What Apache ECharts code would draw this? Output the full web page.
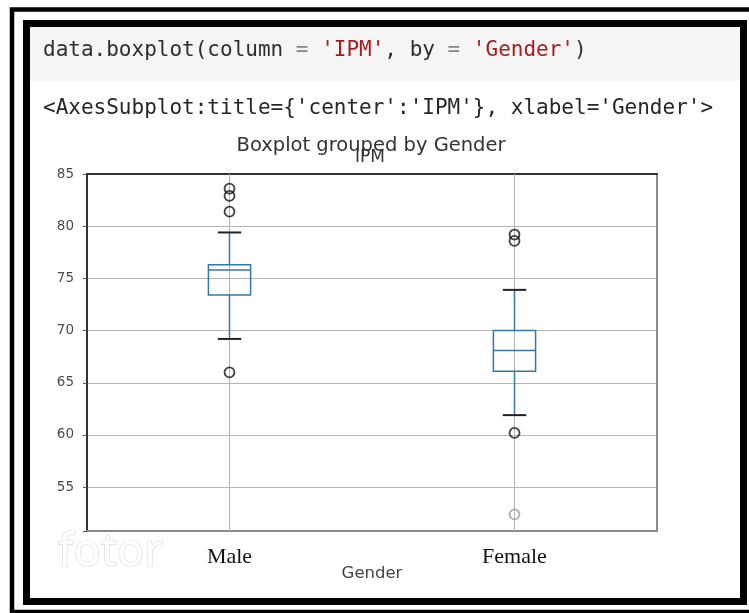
<!DOCTYPE html>
<html>
<head>
<meta charset="utf-8">
<script src="https://cdn.jsdelivr.net/npm/echarts@6/dist/echarts.min.js"></script>
<style>
  html, body { margin: 0; padding: 0; background: #fff; }
  #chart { width: 749px; height: 613px; }
</style>
</head>
<body>
<div id="chart"></div>
<script>
// values
const categories = ['Male', 'Female'];
const whiskerLow = [69.2, 61.9];
const q1 = [73.4, 66.1];
const median = [75.8, 68.1];
const q3 = [76.3, 70.0];
const whiskerHigh = [79.4, 73.9];
const maleOutliers = [83.6, 82.9, 81.4, 66.0];
const femaleOutliers = [79.2, 78.6, 60.2, 52.4];

const boxColor = '#2f7aa6';
const gridColor = '#b4b4b8';

const boxData = categories.map((c, i) => [i, whiskerLow[i], q1[i], median[i], q3[i], whiskerHigh[i]]);
const outlierData = [];
maleOutliers.forEach(v => outlierData.push([categories[0], v]));
femaleOutliers.forEach(v => {
  // the lowest female point is drawn faded in the picture
  const item = { value: [categories[1], v] };
  if (v < 55) item.itemStyle = { borderColor: '#9a9a9a' };
  outlierData.push(item);
});

const chart = echarts.init(document.getElementById('chart'));

function renderBox(params, api) {
  const x = api.value(0);
  const low = api.coord([x, api.value(1)]);
  const b1 = api.coord([x, api.value(2)]);
  const med = api.coord([x, api.value(3)]);
  const b3 = api.coord([x, api.value(4)]);
  const high = api.coord([x, api.value(5)]);
  const band = api.size([1, 0])[0];
  const half = band * 0.074;
  const cap = band * 0.041;
  const cs = params.coordSys;
  const px = low[0];
  return {
    type: 'group',
    children: [
      // vertical grid line through the category
      { type: 'line', shape: { x1: px, y1: cs.y, x2: px, y2: cs.y + cs.height }, style: { stroke: gridColor, lineWidth: 1 } },
      { type: 'line', shape: { x1: px, y1: high[1], x2: px, y2: b3[1] }, style: { stroke: boxColor, lineWidth: 1.5 } },
      { type: 'line', shape: { x1: px, y1: b1[1], x2: px, y2: low[1] }, style: { stroke: boxColor, lineWidth: 1.5 } },
      { type: 'line', shape: { x1: px - cap, y1: high[1], x2: px + cap, y2: high[1] }, style: { stroke: '#222', lineWidth: 2 } },
      { type: 'line', shape: { x1: px - cap, y1: low[1], x2: px + cap, y2: low[1] }, style: { stroke: '#222', lineWidth: 2 } },
      { type: 'rect', shape: { x: px - half, y: b3[1], width: half * 2, height: b1[1] - b3[1] }, style: { stroke: boxColor, fill: 'none', lineWidth: 1.5 } },
      { type: 'line', shape: { x1: px - half, y1: med[1], x2: px + half, y2: med[1] }, style: { stroke: boxColor, lineWidth: 1.5 } }
    ]
  };
}

const option = {
  backgroundColor: '#fff',
  animation: false,
  grid: { left: 87, right: 92, top: 174, bottom: 82 },
  xAxis: [{
    type: 'category',
    data: categories,
    boundaryGap: true,
    axisLine: { lineStyle: { color: '#8a8a8a', width: 2 } },
    axisTick: { alignWithLabel: true, length: 5, lineStyle: { color: '#777' } },
    axisLabel: { fontFamily: 'Liberation Serif', fontSize: 22, color: '#111', margin: 15 },
    splitLine: { show: false },
    name: 'Gender',
    nameLocation: 'middle',
    nameGap: 34,
    nameMoveOverlap: false,
    nameTextStyle: { fontFamily: 'DejaVu Sans', fontSize: 16.5, color: '#444' }
  }, {
    type: 'category',
    data: categories,
    position: 'top',
    axisLine: { lineStyle: { color: '#333', width: 2 } },
    axisTick: { show: false },
    axisLabel: { show: false },
    splitLine: { show: false }
  }],
  yAxis: [{
    type: 'value',
    min: 50.8,
    max: 85,
    splitNumber: 6,
    axisLine: { show: true, lineStyle: { color: '#333', width: 2 } },
    axisTick: { show: true, length: 4, lineStyle: { color: '#555' } },
    axisLabel: {
      fontFamily: 'DejaVu Sans', fontSize: 13.5, color: '#4a4a4a', margin: 13,
      formatter: v => (v % 5 === 0 ? String(v) : '')
    },
    splitLine: { lineStyle: { color: gridColor, width: 1 } }
  }, {
    type: 'value',
    min: 50.8,
    max: 85,
    position: 'right',
    axisLine: { show: true, lineStyle: { color: '#8a8a8a', width: 2 } },
    axisTick: { show: false },
    axisLabel: { show: false },
    splitLine: { show: false }
  }],
  series: [{
    type: 'custom',
    renderItem: renderBox,
    data: boxData,
    encode: { x: 0, y: [1, 2, 3, 4, 5] },
    z: 2
  }, {
    type: 'scatter',
    data: outlierData,
    symbol: 'circle',
    symbolSize: 10,
    itemStyle: { color: 'rgba(0,0,0,0)', borderColor: '#111', borderWidth: 1.8 },
    z: 3
  }],
  graphic: [
    // notebook frame
    { type: 'rect', shape: { x: 12, y: 9.5, width: 760, height: 602.5 }, style: { stroke: '#000', fill: 'none', lineWidth: 4.5 }, silent: true },
    { type: 'rect', shape: { x: 30, y: 27, width: 710, height: 54 }, style: { fill: '#f5f5f5' }, silent: true, z: -1 },
    { type: 'rect', shape: { x: 26.5, y: 23.5, width: 717, height: 578 }, style: { stroke: '#000', fill: 'none', lineWidth: 7 }, silent: true },
    {
      type: 'text', left: 43, top: 40,
      style: {
        text: '{d|data.boxplot(column }{o|=}{d| }{s|\'IPM\'}{d|, by }{o|=}{d| }{s|\'Gender\'}{d|)}',
        rich: {
          d: { fontFamily: 'DejaVu Sans Mono', fontSize: 21, fill: '#2e2e2e' },
          o: { fontFamily: 'DejaVu Sans Mono', fontSize: 21, fill: '#888' },
          s: { fontFamily: 'DejaVu Sans Mono', fontSize: 21, fill: '#a32020' }
        }
      }
    },
    {
      type: 'text', left: 43, top: 98,
      style: { text: "<AxesSubplot:title={'center':'IPM'}, xlabel='Gender'>", fontFamily: 'DejaVu Sans Mono', fontSize: 21, fill: '#262626' }
    },
    {
      type: 'text', x: 371, y: 146,
      style: { text: 'Boxplot grouped by Gender', fontFamily: 'DejaVu Sans', fontSize: 19.5, fill: '#333', align: 'center', verticalAlign: 'middle' }
    },
    {
      type: 'text', x: 370, y: 158,
      style: { text: 'IPM', fontFamily: 'DejaVu Sans', fontSize: 17, fill: '#333', align: 'center', verticalAlign: 'middle' }
    },
    {
      type: 'text', x: 58, y: 553,
      style: { text: 'fotor', fontFamily: 'Noto Sans', fontSize: 45, fill: '#fff', stroke: '#dadada', lineWidth: 1.2, verticalAlign: 'middle' },
      silent: true
    }
  ]
};

chart.setOption(option);
</script>
</body>
</html>
